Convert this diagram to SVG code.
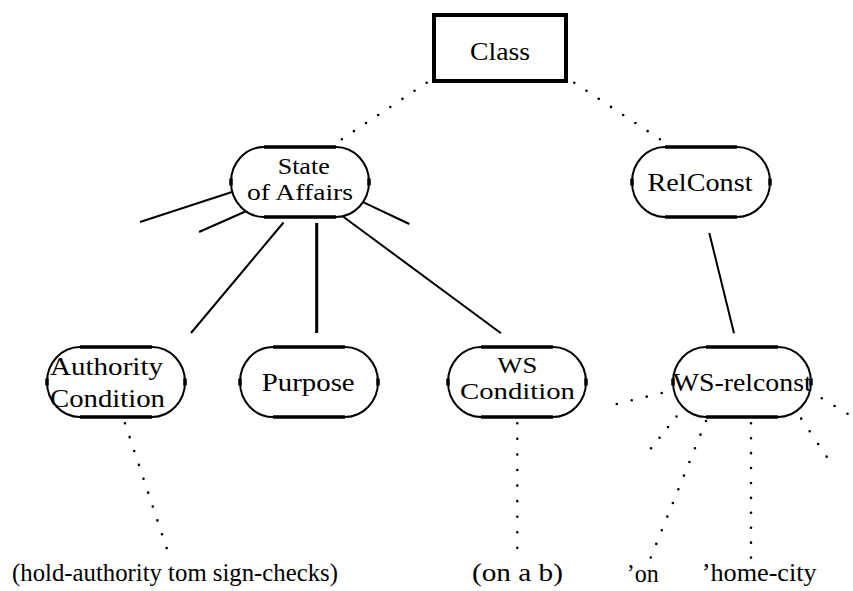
<svg xmlns="http://www.w3.org/2000/svg" width="853" height="591" viewBox="0 0 853 591">
<style>
.t{font-family:"Liberation Serif","DejaVu Serif","Noto Serif","Nimbus Roman","Nimbus Roman No9 L","FreeSerif",Tinos,"Times New Roman",Times,Georgia,serif;font-size:26px;fill:#000}
.t2{font-size:23px}
.outline{fill:#fff;stroke:#000;stroke-width:2}
.flat{stroke:#000;stroke-width:3.4;fill:none}
.tick{stroke:#000;stroke-width:3.5}
.solid{stroke:#000;stroke-width:2;fill:none}
.dot{stroke:#000;stroke-width:2.6;stroke-linecap:round;fill:none}
</style>
<rect width="853" height="591" fill="#fff"/>
<g id="connectors">
<line class="solid" x1="140" y1="222" x2="232" y2="192"/>
<line class="solid" x1="199" y1="232" x2="251" y2="209"/>
<line class="solid" x1="191" y1="333" x2="283.5" y2="222.5"/>
<line class="solid" x1="316.7" y1="223" x2="316.7" y2="333" style="stroke-width:3"/>
<line class="solid" x1="343.3" y1="216.7" x2="501" y2="333.3"/>
<line class="solid" x1="357.3" y1="199.3" x2="409.3" y2="224"/>
<line class="solid" x1="709.3" y1="233" x2="734" y2="333.3"/>
<line class="dot" x1="426.7" y1="82.7" x2="341.7" y2="139.3" stroke-dasharray="0 14.57"/>
<line class="dot" x1="574.3" y1="82.7" x2="660" y2="139.3" stroke-dasharray="0 14.65"/>
<line class="dot" x1="125" y1="423.3" x2="166.7" y2="548.3" stroke-dasharray="0 14.62"/>
<line class="dot" x1="517.3" y1="423.3" x2="517.3" y2="548" stroke-dasharray="0 15.57"/>
<line class="dot" x1="661.7" y1="393" x2="616.7" y2="404" stroke-dasharray="0 15.42"/>
<line class="dot" x1="685" y1="406" x2="651" y2="448.3" stroke-dasharray="0 13.55"/>
<line class="dot" x1="706" y1="421" x2="650.7" y2="557.7" stroke-dasharray="0 14.73"/>
<line class="dot" x1="751" y1="423.3" x2="751" y2="557.7" stroke-dasharray="0 14.92"/>
<line class="dot" x1="792.7" y1="406" x2="826.7" y2="456.7" stroke-dasharray="0 15.24"/>
<line class="dot" x1="821.7" y1="398.3" x2="847.5" y2="413.8" stroke-dasharray="0 15.03"/>
</g>
<g id="class">
<rect x="434" y="15" width="132" height="66" fill="#fff" stroke="#000" stroke-width="4"/>
<text class="t" x="470" y="60" textLength="60" lengthAdjust="spacingAndGlyphs">Class</text>
</g>
<g id="state-of-affairs" transform="translate(231,147)">
<path class="outline" d="M33,0 H105 A33 35 0 0 1 138,35 A33 35 0 0 1 105,70 H33 A33 35 0 0 1 0,35 A33 35 0 0 1 33,0 Z"/>
<path class="flat" d="M33,0 H105 M33,70 H105"/>
<path class="tick" d="M0,31.5 V38.5 M138,31.5 V38.5"/>
<text class="t t2" x="46.7" y="26.5" textLength="52" lengthAdjust="spacingAndGlyphs">State</text>
<text class="t t2" x="16" y="52.5" textLength="106" lengthAdjust="spacingAndGlyphs">of Affairs</text>
</g>
<g id="relconst" transform="translate(632,147)">
<path class="outline" d="M33,0 H105 A33 35 0 0 1 138,35 A33 35 0 0 1 105,70 H33 A33 35 0 0 1 0,35 A33 35 0 0 1 33,0 Z"/>
<path class="flat" d="M33,0 H105 M33,70 H105"/>
<path class="tick" d="M0,31.5 V38.5 M138,31.5 V38.5"/>
<text class="t" x="15.5" y="43.5" textLength="105" lengthAdjust="spacingAndGlyphs">RelConst</text>
</g>
<g id="authority-condition" transform="translate(47,347)">
<path class="outline" d="M33,0 H105 A33 35 0 0 1 138,35 A33 35 0 0 1 105,70 H33 A33 35 0 0 1 0,35 A33 35 0 0 1 33,0 Z"/>
<path class="flat" d="M33,0 H105 M33,70 H105"/>
<path class="tick" d="M0,31.5 V38.5 M138,31.5 V38.5"/>
<text class="t" x="3" y="28" textLength="113" lengthAdjust="spacingAndGlyphs">Authority</text>
<text class="t" x="3" y="59.5" textLength="115" lengthAdjust="spacingAndGlyphs">Condition</text>
</g>
<g id="purpose" transform="translate(240,347)">
<path class="outline" d="M33,0 H105 A33 35 0 0 1 138,35 A33 35 0 0 1 105,70 H33 A33 35 0 0 1 0,35 A33 35 0 0 1 33,0 Z"/>
<path class="flat" d="M33,0 H105 M33,70 H105"/>
<path class="tick" d="M0,31.5 V38.5 M138,31.5 V38.5"/>
<text class="t" x="21.7" y="44" textLength="93" lengthAdjust="spacingAndGlyphs">Purpose</text>
</g>
<g id="ws-condition" transform="translate(448,347)">
<path class="outline" d="M33,0 H105 A33 35 0 0 1 138,35 A33 35 0 0 1 105,70 H33 A33 35 0 0 1 0,35 A33 35 0 0 1 33,0 Z"/>
<path class="flat" d="M33,0 H105 M33,70 H105"/>
<path class="tick" d="M0,31.5 V38.5 M138,31.5 V38.5"/>
<text class="t t2" x="49.3" y="25.5" textLength="40" lengthAdjust="spacingAndGlyphs">WS</text>
<text class="t t2" x="12" y="51.5" textLength="115" lengthAdjust="spacingAndGlyphs">Condition</text>
</g>
<g id="ws-relconst" transform="translate(673,347)">
<path class="outline" d="M33,0 H105 A33 35 0 0 1 138,35 A33 35 0 0 1 105,70 H33 A33 35 0 0 1 0,35 A33 35 0 0 1 33,0 Z"/>
<path class="flat" d="M33,0 H105 M33,70 H105"/>
<path class="tick" d="M0,31.5 V38.5 M138,31.5 V38.5"/>
<text class="t" x="-0.3" y="44" textLength="139" lengthAdjust="spacingAndGlyphs">WS-relconst</text>
</g>
<g id="leaf-hold-authority">
<text class="t" x="12" y="581" textLength="326" lengthAdjust="spacingAndGlyphs">(hold-authority tom sign-checks)</text>
</g>
<g id="leaf-on-a-b">
<text class="t" x="472" y="581" textLength="91" lengthAdjust="spacingAndGlyphs">(on a b)</text>
</g>
<g id="leaf-on">
<text class="t" x="626.7" y="581.5" textLength="32" lengthAdjust="spacingAndGlyphs">’on</text>
</g>
<g id="leaf-home-city">
<text class="t" x="701.7" y="581" textLength="115" lengthAdjust="spacingAndGlyphs">’home-city</text>
</g>
</svg>
